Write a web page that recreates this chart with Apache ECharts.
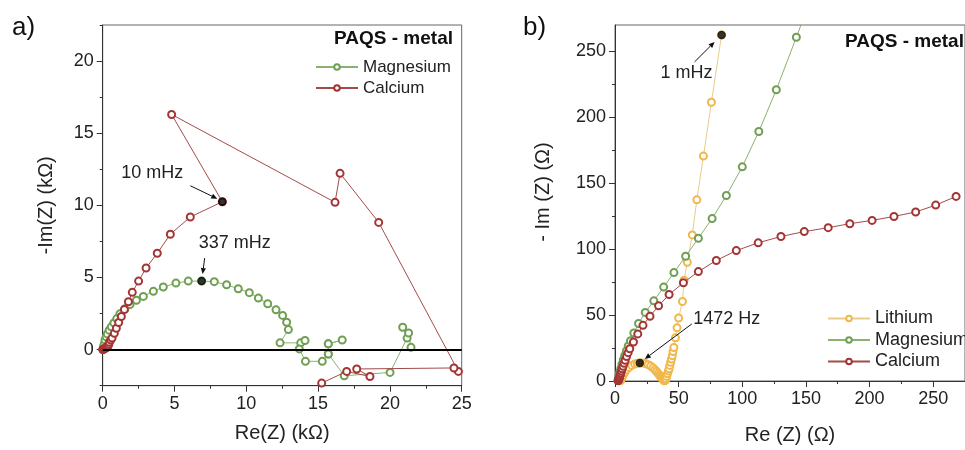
<!DOCTYPE html>
<html>
<head>
<meta charset="UTF-8">
<title>PAQS - metal</title>
<script src="https://cdn.jsdelivr.net/npm/echarts@6/dist/echarts.min.js"></script>
<style>html,body{margin:0;padding:0;background:#fff;}</style>
</head>
<body>
<div id="main" style="width:965px;height:450px;"></div>
<script>
// panel a) -Im(Z) vs Re(Z), kOhm
const magnesiumA = [
  [0.02, 0.05], [0.06, 0.2], [0.1, 0.38], [0.16, 0.67], [0.24, 0.88], [0.32, 1.09], [0.45, 1.35],
  [0.6, 1.58], [0.78, 1.85], [0.98, 2.15], [1.2, 2.48], [1.55, 2.83], [1.9, 3.13], [2.35, 3.42],
  [2.83, 3.69], [3.53, 4.04], [4.22, 4.34], [5.1, 4.61], [5.96, 4.75], [6.89, 4.75], [7.77, 4.71],
  [8.63, 4.5], [9.44, 4.22], [10.21, 3.95], [10.84, 3.57], [11.49, 3.18], [12.07, 2.76], [12.53, 2.37],
  [12.81, 1.9], [12.93, 1.39], [12.35, 0.47], [13.79, 0.47], [14.09, 0.63], [13.69, 0.05], [14.12, -0.81],
  [15.29, -0.81], [15.71, -0.3], [15.71, 0.4], [16.68, 0.67], [15.71, 0.4], [15.71, -0.3], [16.82, -1.81],
  [20.01, -1.58], [21.2, 0.8], [20.89, 1.55], [21.3, 1.15], [21.47, 0.16]
];
const calciumA = [
  [0.005, 0.004], [0.02, 0.012], [0.05, 0.03], [0.09, 0.055], [0.14, 0.08], [0.2, 0.105], [0.26, 0.135],
  [0.32, 0.18], [0.38, 0.27], [0.42, 0.38], [0.46, 0.51], [0.56, 0.66], [0.65, 0.81], [0.81, 1.13],
  [0.95, 1.48], [1.11, 1.88], [1.3, 2.3], [1.51, 2.78], [1.79, 3.32], [2.06, 3.97], [2.5, 4.75],
  [3.02, 5.66], [3.8, 6.68], [4.71, 8.0], [6.1, 9.19], [8.33, 10.25], [4.8, 16.3], [16.18, 10.21],
  [16.53, 12.22], [19.22, 8.82], [24.77, -1.51], [24.46, -1.27], [17.69, -1.34], [18.61, -1.86],
  [16.99, -1.51], [15.25, -2.32]
];
const markedA = [[8.33, 10.25], [6.89, 4.75]];
const markedLabelsA = ['10 mHz', '337 mHz'];

// panel b) -Im(Z) vs Re(Z), Ohm
const lithiumB = [
  [4.5, 0.3], [5.2, 2], [6.2, 4], [7.5, 6.3], [9, 8.4], [11, 10.3], [13.2, 11.8], [15.5, 12.9],
  [17.5, 13.4], [19.5, 13.7], [21.8, 13.6], [24, 13.2], [26, 12.4], [28, 11.3], [29.8, 10], [31.3, 8.6],
  [32.6, 7.2], [33.8, 5.8], [34.8, 4.6], [35.7, 3.5], [36.5, 2.5], [37.2, 1.7], [37.8, 1], [38.3, 0.5],
  [38.8, 0.2], [39.3, 0.3], [39.7, 0.8], [40, 1.8], [40.6, 3.5], [41.25, 5.5], [41.9, 7.5], [42.5, 9.3],
  [43.1, 11.8], [43.75, 14.2], [44.4, 16.7], [45, 19.2], [45.6, 22.3], [46.25, 25.4], [47.5, 32.8],
  [48.75, 40.3], [50, 47.8], [53, 60.3], [54.25, 76.5], [56.8, 90.1], [60.75, 110.8], [64.3, 137.4],
  [69.5, 170.6], [75.75, 211.4], [83.75, 262.5]
];
const magnesiumB = [
  [2.3, 0.4], [2.7, 2.2], [3.2, 4.4], [3.8, 6.8], [4.6, 9.6], [5.5, 12.7], [6.5, 15.9], [7.6, 19.2],
  [8.9, 22.8], [10.4, 26.6], [12.2, 30.6], [14.8, 36.4], [18.5, 43.6], [23.8, 52], [30.5, 60.8],
  [38.25, 71.2], [46.3, 82.2], [55.5, 94.6], [65.5, 108.3], [76.3, 123.2], [87.5, 140.7], [100, 162.4],
  [113, 189.2], [126.75, 220.9], [142.5, 260.7], [157, 298]
];
const calciumB = [
  [2.5, 0.1], [2.8, 0.8], [3.1, 1.6], [3.4, 2.5], [3.8, 3.6], [4.2, 4.8], [4.6, 6.1], [5.1, 7.6],
  [5.6, 9.2], [6.3, 11.2], [7.1, 13.4], [8, 15.7], [9.1, 18.6], [10.3, 21.5], [11.6, 24.5], [14.5, 29.6],
  [17.9, 35.7], [22, 42.2], [27.5, 49.1], [34.25, 57], [42.5, 65.6], [53.75, 74.5], [65.5, 83],
  [79.6, 91.4], [95.3, 98.9], [112.5, 104.8], [130.4, 109.6], [148.7, 113.3], [167.5, 116.3],
  [184.5, 119.3], [202, 121.8], [219.2, 124.8], [236.25, 128.2], [252, 133.4], [268, 140]
];
const markedB = [[83.75, 262.5], [19.5, 13.7]];
const markedLabelsB = ['1 mHz', '1472 Hz'];

// tick values
const xTicksA = [0, 5, 10, 15, 20, 25];
const xMinorA = [2.5, 7.5, 12.5, 17.5, 22.5];
const yTicksA = [0, 5, 10, 15, 20];
const yMinorA = [-2.5, 2.5, 7.5, 12.5, 17.5, 22.5];
const xTicksB = [0, 50, 100, 150, 200, 250];
const xMinorB = [25, 75, 125, 175, 225, 275];
const yTicksB = [0, 50, 100, 150, 200, 250];
const yMinorB = [25, 75, 125, 175, 225];

const FONT = '"Liberation Sans", Arial, sans-serif';
const AX = '#333';
const COL = {
  li: { mark: '#f0b84a', line: '#eacb88' },
  mg: { mark: '#6f9f52', line: '#8ab26f' },
  ca: { mark: '#a53434', line: '#a34b4b' }
};

function axisPair(grid, pos, min, max, major, minor, name, gap, pad) {
  const main = {
    type: 'value', gridIndex: grid, position: pos, min: min, max: max,
    name: name, nameLocation: 'middle', nameGap: gap,
    nameTextStyle: { fontFamily: FONT, fontSize: 20, color: '#222', padding: pad || 0 },
    axisLine: { show: true, onZero: false, lineStyle: { color: AX, width: 1 } },
    axisTick: { show: true, inside: false, length: 6, customValues: major, lineStyle: { color: AX } },
    axisLabel: { customValues: major, fontFamily: FONT, fontSize: 18, color: '#222', margin: 9 },
    splitLine: { show: false }
  };
  const sub = {
    type: 'value', gridIndex: grid, position: pos, min: min, max: max,
    axisLine: { show: false, onZero: false },
    axisTick: { show: true, inside: false, length: 3, customValues: minor, lineStyle: { color: AX } },
    axisLabel: { show: false },
    splitLine: { show: false }
  };
  return [main, sub];
}

function lineSeries(name, data, c, xi, yi, z) {
  return {
    name: name, type: 'line', data: data, xAxisIndex: xi, yAxisIndex: yi, z: z,
    symbol: 'emptyCircle', symbolSize: 7, showSymbol: true,
    lineStyle: { color: c.line, width: 1 },
    itemStyle: { color: c.mark, borderWidth: 1 },
    emphasis: { disabled: true }
  };
}

function markSeries(data, xi, yi) {
  return {
    type: 'scatter', data: data, xAxisIndex: xi, yAxisIndex: yi, z: 10,
    symbol: 'circle', symbolSize: 8.5, itemStyle: { color: '#000' },
    emphasis: { disabled: true }
  };
}

const calciumSeriesA = lineSeries('Calcium', calciumA, COL.ca, 0, 0, 3);
calciumSeriesA.markLine = {
  silent: true, symbol: ['none', 'none'], label: { show: false },
  lineStyle: { color: '#000', width: 2, type: 'solid' },
  emphasis: { disabled: true },
  data: [{ yAxis: 0 }]
};

const chart = echarts.init(document.getElementById('main'), null, { renderer: 'canvas' });
chart.setOption({
  animation: false,
  grid: [
    { left: 102.7, top: 25, width: 359, height: 360.7, show: true, borderColor: '#666', borderWidth: 1 },
    { left: 615, top: 25, width: 366.7, height: 360.7, show: true, borderColor: '#666', borderWidth: 1 }
  ],
  xAxis: [
    ...axisPair(0, 'bottom', 0, 25, xTicksA, xMinorA, 'Re(Z) (kΩ)', 38),
    ...axisPair(1, 'bottom', 0, 275, xTicksB, xMinorB, 'Re (Z) (Ω)', 44)
  ],
  yAxis: [
    ...axisPair(0, 'left', -2.5, 22.5, yTicksA, yMinorA, '-Im(Z) (kΩ)', 46),
    ...axisPair(1, 'left', 0, 270, yTicksB, yMinorB, '- Im (Z) (Ω)', 62, [0, 0, 0, 22])
  ],
  legend: [
    {
      data: ['Magnesium', 'Calcium'], orient: 'vertical', left: 315, top: 57, padding: 0,
      itemWidth: 42, itemHeight: 7, itemGap: 1, selectedMode: false,
      textStyle: { fontFamily: FONT, fontSize: 17, color: '#222', lineHeight: 20 }
    },
    {
      data: ['Lithium', 'Magnesium', 'Calcium'], orient: 'vertical', left: 827, top: 308, padding: 0,
      itemWidth: 42, itemHeight: 7, itemGap: 0.5, selectedMode: false,
      textStyle: { fontFamily: FONT, fontSize: 18, color: '#222', lineHeight: 21 }
    }
  ],
  series: [
    lineSeries('Magnesium', magnesiumA, COL.mg, 0, 0, 2),
    calciumSeriesA,
    markSeries(markedA, 0, 0),
    lineSeries('Lithium', lithiumB, COL.li, 2, 2, 2),
    lineSeries('Magnesium', magnesiumB, COL.mg, 2, 2, 3),
    lineSeries('Calcium', calciumB, COL.ca, 2, 2, 4),
    markSeries(markedB, 2, 2)
  ]
});

// annotations placed relative to the marked data points
function arrow(id, x1, y1, x2, y2) {
  const ang = Math.atan2(y2 - y1, x2 - x1);
  const L = 6, W = 2.6;
  const bx = x2 - L * Math.cos(ang), by = y2 - L * Math.sin(ang);
  const nx = -Math.sin(ang) * W, ny = Math.cos(ang) * W;
  return [
    { type: 'line', id: id + 'l', silent: true, z: 20,
      shape: { x1: x1, y1: y1, x2: bx, y2: by }, style: { stroke: '#111', lineWidth: 1 } },
    { type: 'polygon', id: id + 'h', silent: true, z: 20,
      shape: { points: [[x2, y2], [bx + nx, by + ny], [bx - nx, by - ny]] }, style: { fill: '#111' } }
  ];
}

const notes = [
  { axes: { xAxisIndex: 0, yAxisIndex: 0 }, pt: markedA[0], text: markedLabelsA[0], tail: [-32, -16], tip: [-5, -3], lab: [-70, -29] },
  { axes: { xAxisIndex: 0, yAxisIndex: 0 }, pt: markedA[1], text: markedLabelsA[1], tail: [3, -23], tip: [1, -7], lab: [33, -38] },
  { axes: { xAxisIndex: 2, yAxisIndex: 2 }, pt: markedB[0], text: markedLabelsB[0], tail: [-27, 27], tip: [-7, 7], lab: [-35, 38] },
  { axes: { xAxisIndex: 2, yAxisIndex: 2 }, pt: markedB[1], text: markedLabelsB[1], tail: [52, -39], tip: [5, -4], lab: [87, -44] }
];

const graphics = [
  { type: 'text', id: 'pa', left: 12, top: 15, silent: true,
    style: { text: 'a)', fontFamily: FONT, fontSize: 26, fill: '#111' } },
  { type: 'text', id: 'pb', left: 523, top: 15, silent: true,
    style: { text: 'b)', fontFamily: FONT, fontSize: 26, fill: '#111' } },
  { type: 'text', id: 'ta', x: 453, y: 39, silent: true,
    style: { text: 'PAQS - metal', fontFamily: FONT, fontSize: 19, fontWeight: 'bold', fill: '#111', align: 'right', verticalAlign: 'middle' } },
  { type: 'text', id: 'tb', x: 845, y: 42, silent: true,
    style: { text: 'PAQS - metal', fontFamily: FONT, fontSize: 19, fontWeight: 'bold', fill: '#111', align: 'left', verticalAlign: 'middle' } }
];

notes.forEach(function (n, i) {
  const p = chart.convertToPixel(n.axes, n.pt);
  graphics.push(...arrow('ar' + i, p[0] + n.tail[0], p[1] + n.tail[1], p[0] + n.tip[0], p[1] + n.tip[1]));
  graphics.push({
    type: 'text', id: 'nt' + i, x: p[0] + n.lab[0], y: p[1] + n.lab[1], silent: true, z: 20,
    style: { text: n.text, fontFamily: FONT, fontSize: 18, fill: '#222', align: 'center', verticalAlign: 'middle' }
  });
});

chart.setOption({ graphic: graphics });
</script>
</body>
</html>
